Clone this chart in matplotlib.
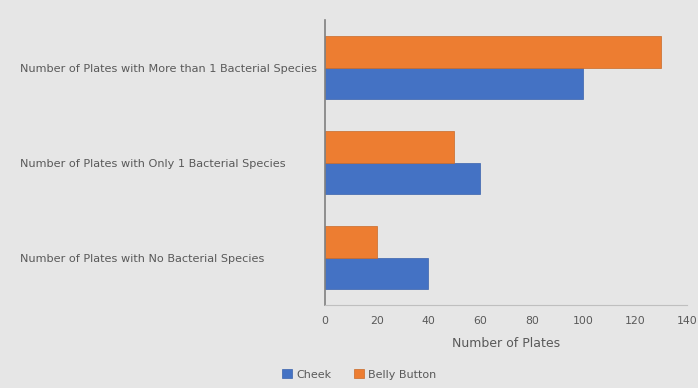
import matplotlib.pyplot as plt
import numpy as np

# plate counts per category (bottom to top)
categories = ["Number of Plates with No Bacterial Species",
              "Number of Plates with Only 1 Bacterial Species",
              "Number of Plates with More than 1 Bacterial Species"]
cheek = [40, 60, 100]
belly_button = [20, 50, 130]
xticks = [0, 20, 40, 60, 80, 100, 120, 140]

bg = '#e6e6e6'
grey = '#595959'

fig = plt.figure(figsize=(6.98, 3.88), dpi=100, facecolor=bg)
ax = fig.add_axes([0.4656, 0.214, 0.5184, 0.734], facecolor=bg)

y = np.arange(len(categories))
h = 0.33
ax.barh(y - h/2, cheek, height=h, color='#4472C4', edgecolor='#3a63ad', linewidth=0.5, label='Cheek')
ax.barh(y + h/2, belly_button, height=h, color='#ED7D31', edgecolor='#c96a29', linewidth=0.5, label='Belly Button')

ax.set_xlim(0, 140)
ax.set_ylim(-0.5, 2.5)
ax.set_xticks(xticks)
ax.set_yticks(y)
ax.set_yticklabels(categories)

# labels start at the left edge of the figure
for lab in ax.get_yticklabels():
    lab.set_horizontalalignment('left')
ax.tick_params(axis='y', length=0, pad=305 * 72 / 100, labelsize=8.1, labelcolor=grey)
ax.tick_params(axis='x', length=0, pad=8, labelsize=7.8, labelcolor=grey)

for s in ['top', 'right']:
    ax.spines[s].set_visible(False)
ax.spines['left'].set_color('#7f7f7f')
ax.spines['left'].set_linewidth(1.2)
ax.spines['bottom'].set_color('#bfbfbf')

ax.set_xlabel('Number of Plates', fontsize=9, color=grey, labelpad=8)

fig.legend(loc='center', bbox_to_anchor=(0.515, 0.035), ncol=2, frameon=False,
           fontsize=8, labelcolor=grey, handlelength=0.9, handleheight=0.9,
           columnspacing=2.0, handletextpad=0.4)

plt.savefig('out.png', dpi=100, facecolor=bg)
